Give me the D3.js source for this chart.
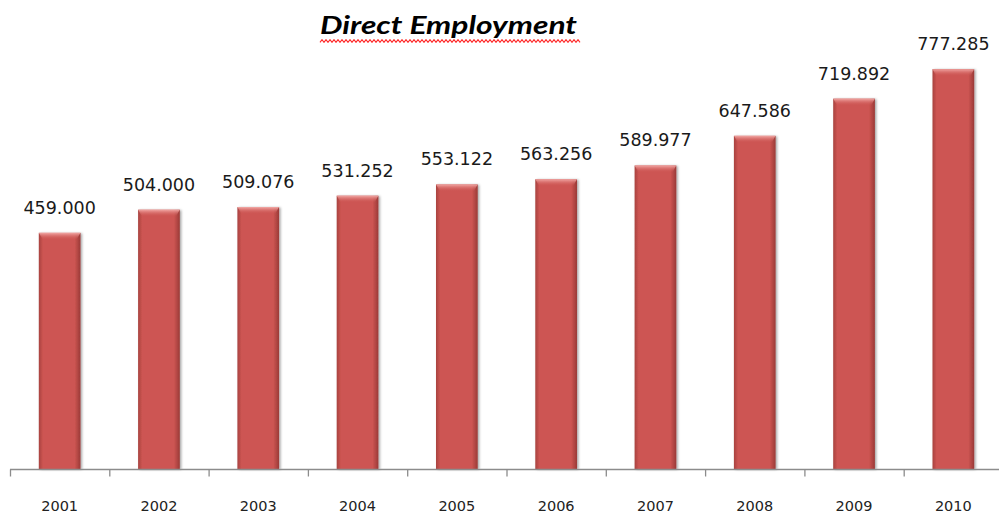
<!DOCTYPE html>
<html>
<head>
<meta charset="utf-8">
<script src="https://cdn.jsdelivr.net/npm/d3@7/dist/d3.min.js"></script>
<style>
  body { margin: 0; background: #fff; }
  svg { display: block; }
</style>
</head>
<body>
<div id="chart"></div>
<script>
// chart values
var years = ['2001', '2002', '2003', '2004', '2005', '2006', '2007', '2008', '2009', '2010'];
var employment = [459.000, 504.000, 509.076, 531.252, 553.122, 563.256, 589.977, 647.586, 719.892, 777.285];
var valueLabels = ['459.000', '504.000', '509.076', '531.252', '553.122', '563.256', '589.977', '647.586', '719.892', '777.285'];
var chartTitle = 'Direct Employment';

var width = 999, height = 516;
var margin = {top: 6, right: -4, bottom: 47, left: 10};

var svg = d3.select('#chart').append('svg')
    .attr('width', width)
    .attr('height', height);

var defs = svg.append('defs');

// body of the bar: darker rims left and right
var bodyGrad = defs.append('linearGradient')
    .attr('id', 'barBody')
    .attr('x1', '0%').attr('x2', '100%').attr('y1', '0%').attr('y2', '0%');
bodyGrad.append('stop').attr('offset', '0%').attr('stop-color', '#a8423f');
bodyGrad.append('stop').attr('offset', '10%').attr('stop-color', '#cd5552');
bodyGrad.append('stop').attr('offset', '86%').attr('stop-color', '#cd5552');
bodyGrad.append('stop').attr('offset', '100%').attr('stop-color', '#9a3a37');

// bevel highlight at the top
var topGrad = defs.append('linearGradient')
    .attr('id', 'barTop')
    .attr('x1', '0%').attr('x2', '0%').attr('y1', '0%').attr('y2', '100%');
topGrad.append('stop').attr('offset', '0%').attr('stop-color', '#f2a8a5').attr('stop-opacity', 1);
topGrad.append('stop').attr('offset', '100%').attr('stop-color', '#cd5552').attr('stop-opacity', 0);

var shadow = defs.append('filter')
    .attr('id', 'barShadow')
    .attr('x', '-20%').attr('y', '-10%').attr('width', '150%').attr('height', '130%');
shadow.append('feDropShadow')
    .attr('dx', 1.5).attr('dy', 0.5).attr('stdDeviation', 1.2)
    .attr('flood-color', '#000').attr('flood-opacity', 0.35);

var x = d3.scaleBand()
    .domain(years)
    .range([margin.left, width - margin.right])
    .paddingInner(0.58)
    .paddingOuter(0.29);

var y = d3.scaleLinear()
    .domain([0, 900])
    .range([height - margin.bottom, margin.top]);

// bars
var bars = svg.append('g').selectAll('g.bar')
    .data(employment)
    .enter().append('g')
    .attr('class', 'bar');

bars.append('rect')
    .attr('x', function(d, i) { return x(years[i]); })
    .attr('y', function(d) { return y(d); })
    .attr('width', x.bandwidth())
    .attr('height', function(d) { return y(0) - y(d); })
    .attr('fill', 'url(#barBody)')
    .attr('filter', 'url(#barShadow)');

bars.append('path')
    .attr('d', function(d, i) {
      var x0 = x(years[i]), x1 = x0 + x.bandwidth(), t = y(d), b = 7;
      return 'M' + x0 + ',' + t + 'L' + x1 + ',' + t + 'L' + (x1 - 4) + ',' + (t + b) +
             'L' + (x0 + 4) + ',' + (t + b) + 'Z';
    })
    .attr('fill', 'url(#barTop)');

// value labels
svg.append('g').selectAll('text')
    .data(employment)
    .enter().append('text')
    .attr('x', function(d, i) { return x(years[i]) + x.bandwidth() / 2; })
    .attr('y', function(d) { return y(d) - 19; })
    .attr('text-anchor', 'middle')
    .style('font-family', '"DejaVu Sans", Verdana, sans-serif')
    .style('font-size', '17.5px')
    .style('fill', '#1a1a1a')
    .text(function(d, i) { return valueLabels[i]; });

// category axis with tick marks between categories
var step = x.step();
var axisG = svg.append('g')
    .attr('transform', 'translate(0,' + (y(0) + 0.5) + ')');

axisG.append('line')
    .attr('x1', margin.left).attr('x2', width)
    .attr('stroke', '#8c8c8c').attr('stroke-width', 1.3);

axisG.selectAll('line.tick')
    .data(d3.range(years.length + 1))
    .enter().append('line')
    .attr('class', 'tick')
    .attr('x1', function(i) { return margin.left + i * step + 0.5; })
    .attr('x2', function(i) { return margin.left + i * step + 0.5; })
    .attr('y1', 0).attr('y2', 7)
    .attr('stroke', '#8c8c8c').attr('stroke-width', 1.3);

axisG.selectAll('text')
    .data(years)
    .enter().append('text')
    .attr('x', function(d) { return x(d) + x.bandwidth() / 2; })
    .attr('y', 41)
    .attr('text-anchor', 'middle')
    .style('font-family', '"DejaVu Sans", Verdana, sans-serif')
    .style('font-size', '14.5px')
    .style('fill', '#222')
    .text(function(d) { return d; });

// title with spell-check squiggle
var title = svg.append('text')
    .attr('x', 320)
    .attr('y', 34)
    .attr('textLength', 257)
    .attr('lengthAdjust', 'spacingAndGlyphs')
    .style('font-family', 'Lato, "Open Sans", sans-serif')
    .style('font-size', '25px')
    .style('font-weight', 'bold')
    .style('font-style', 'italic')
    .style('fill', '#000')
    .text(chartTitle);

var tb = title.node().getBBox();
var wave = d3.range(tb.x, tb.x + tb.width + 4, 2).map(function(px, k) {
  return [px, 41 + (k % 2 === 0 ? 1.4 : -1.4)];
});
svg.append('path')
    .attr('d', d3.line()(wave))
    .attr('fill', 'none')
    .attr('stroke', '#ff2a2a')
    .attr('stroke-width', 1.1);
</script>
</body>
</html>
